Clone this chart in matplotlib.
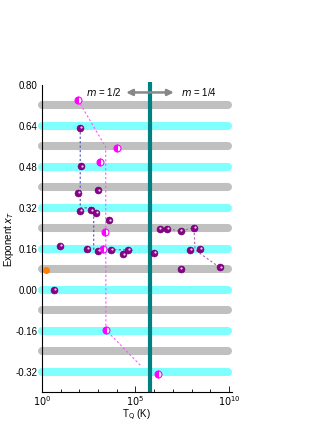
import numpy as np
import matplotlib
matplotlib.use("Agg")
import matplotlib.pyplot as plt
from matplotlib.transforms import offset_copy
from matplotlib.ticker import FixedLocator, NullFormatter

plt.rcParams['font.family'] = ['Liberation Sans', 'DejaVu Sans']
plt.rcParams['font.size'] = 7

# ---------------------------------------------------------------
# data (log10 of T_Q, exponent x_T)
# ---------------------------------------------------------------
purple_logT = [2.05, 2.11, 1.93, 3.01, 2.05, 2.61, 2.88, 3.60, 0.97, 2.41, 3.01,
               3.69, 4.36, 4.59, 0.66, 6.29, 6.68, 7.41, 8.13, 5.98, 7.92, 8.45,
               7.41, 9.50]
purple_x = [0.633, 0.482, 0.379, 0.388, 0.307, 0.310, 0.301, 0.271, 0.170, 0.160,
            0.150, 0.156, 0.138, 0.154, -0.002, 0.238, 0.238, 0.230, 0.242, 0.144,
            0.157, 0.161, 0.080, 0.087]

magenta_logT = [1.93, 4.04, 3.10, 3.37, 3.28, 3.42, 6.22]
magenta_x = [0.741, 0.552, 0.501, 0.227, 0.158, -0.157, -0.331]

orange_logT = [0.20]
orange_x = [0.078]

# guide lines
magenta_guide_logT = [1.93, 3.41, 3.42, 5.30]
magenta_guide_x = [0.741, 0.558, -0.157, -0.298]
blue_guide_logT = [2.05, 2.05, 2.77, 2.77, 4.85]
blue_guide_x = [0.633, 0.320, 0.320, 0.158, 0.155]
right_guide_logT = [6.29, 6.68, 7.41, 8.13, 8.18, 8.30, 9.50]
right_guide_x = [0.238, 0.238, 0.230, 0.242, 0.160, 0.150, 0.087]

band_levels = [0.72, 0.64, 0.56, 0.48, 0.40, 0.32, 0.24, 0.16, 0.08, 0.00,
               -0.08, -0.16, -0.24, -0.32]
crossover_logT = 5.80
yticks = [0.80, 0.64, 0.48, 0.32, 0.16, 0.00, -0.16, -0.32]


def T(logs):
    return 10 ** np.array(logs)


fig = plt.figure(figsize=(3.27, 4.23), dpi=100)
ax = fig.add_axes([0.128, 0.073, 0.581, 0.726])
ax.set_xscale('log')
ax.set_xlim(1, 10 ** 10.15)
ax.set_ylim(-0.40, 0.80)

# horizontal bands
for i, lev in enumerate(band_levels):
    col = '#c0c0c0' if i % 2 == 0 else '#80ffff'
    ax.plot(T([0.0, 9.97]), [lev, lev], color=col, lw=5.8,
            solid_capstyle='round', clip_on=False, zorder=1)

# crossover line
ax.plot(T([crossover_logT, crossover_logT]), [-0.40, 0.81], color='#008080',
        lw=3.0, solid_capstyle='butt', clip_on=False, zorder=2)

# arrows
ax.annotate('', xy=(10 ** 4.5, 0.771), xytext=(10 ** crossover_logT, 0.771),
            arrowprops=dict(arrowstyle='-|>', color='#888888', lw=1.8,
                            mutation_scale=9, shrinkA=0, shrinkB=0))
ax.annotate('', xy=(10 ** 7.05, 0.771), xytext=(10 ** crossover_logT, 0.771),
            arrowprops=dict(arrowstyle='-|>', color='#888888', lw=1.8,
                            mutation_scale=9, shrinkA=0, shrinkB=0))
ax.text(10 ** 2.35, 0.771, '$m$ = 1/2', ha='left', va='center', fontsize=7)
ax.text(10 ** 7.45, 0.771, '$m$ = 1/4', ha='left', va='center', fontsize=7)

# guide lines
ax.plot(T(magenta_guide_logT), magenta_guide_x, color='#ff55ff', lw=0.8,
        ls=(0, (2, 2)), zorder=3)
ax.plot(T(blue_guide_logT), blue_guide_x, color='#5050c0', lw=0.8,
        ls=(0, (2, 2)), zorder=3)
ax.plot(T(right_guide_logT), right_guide_x, color='#b060b0', lw=0.8,
        ls=(0, (2, 2)), zorder=3)

# points
hl = offset_copy(ax.transData, fig=fig, x=0.9, y=0.9, units='dots')
ax.plot(T(purple_logT), purple_x, 'o', ms=5.0, color='#8a008a',
        mec='#600060', mew=0.4, zorder=4)
ax.plot(T(purple_logT), purple_x, 'o', ms=1.6, color='#f0d0f0', mew=0,
        transform=hl, zorder=5)
ax.plot(T(magenta_logT), magenta_x, 'o', ms=5.0, color='#ff00ff',
        fillstyle='left', markerfacecoloralt='white', mec='#ff00ff', mew=0.8,
        zorder=4)
ax.plot(T(orange_logT), orange_x, 'o', ms=5.0, color='#ff8000', mew=0,
        zorder=4)

# axes styling
for s in ['top', 'right']:
    ax.spines[s].set_visible(False)
ax.spines['left'].set_linewidth(0.8)
ax.spines['bottom'].set_linewidth(0.8)
ax.set_yticks(yticks)
ax.set_yticklabels([f'{v:.2f}' for v in yticks])
ax.tick_params(axis='y', length=0, pad=3)
ax.xaxis.set_major_locator(FixedLocator([1, 1e5, 1e10]))
ax.xaxis.set_minor_locator(FixedLocator(T(range(1, 10))))
ax.xaxis.set_minor_formatter(NullFormatter())
ax.set_xticklabels(['$10^0$', '$10^5$', '$10^{10}$'])
ax.tick_params(axis='x', which='major', direction='in', length=4, width=0.6, pad=1.5)
ax.tick_params(axis='x', which='minor', direction='in', length=2.5, width=0.6)

ax.set_xlabel('T$_\\mathrm{Q}$ (K)', fontsize=7, labelpad=0)
ax.set_ylabel('Exponent $x_T$', fontsize=7, labelpad=0)

fig.savefig('out.png', dpi=100)
